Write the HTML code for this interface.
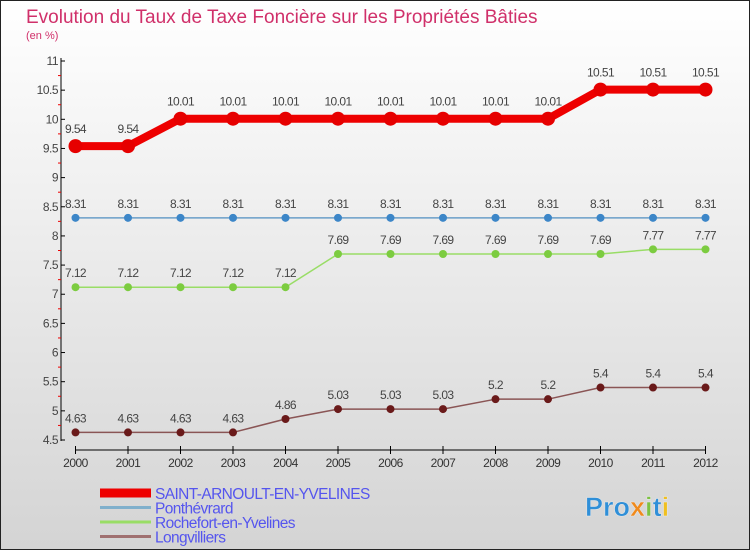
<!DOCTYPE html>
<html><head><meta charset="utf-8"><style>
body{margin:0;width:750px;height:550px;overflow:hidden}
svg{display:block;font-family:"Liberation Sans",sans-serif}
</style></head><body>
<svg width="750" height="550">
<defs><linearGradient id="bg" x1="0" y1="0" x2="0" y2="1"><stop offset="0" stop-color="#ffffff"/><stop offset="1" stop-color="#d4d4d4"/></linearGradient></defs>
<rect x="0.5" y="0.5" width="749" height="549" fill="url(#bg)" stroke="#222"/>
<text x="26" y="23" font-size="19" fill="#d0306a">Evolution du Taux de Taxe Foncière sur les Propriétés Bâties</text>
<text x="26" y="39" font-size="11" fill="#d0306a">(en %)</text>
<g id="axes"></g>
<g id="series"></g>
<g id="legend"></g>
<g font-size="27" font-weight="bold">
<text x="585" y="516" fill="#2f8fd8" stroke="#e8e8e8" stroke-width="0.5">Pro<tspan fill="#f08a1c">x</tspan><tspan fill="#7dc242">i</tspan><tspan fill="#2f8fd8">t</tspan><tspan fill="#f0c020">i</tspan></text>
</g>
</svg>
<script>
const years=["2000","2001","2002","2003","2004","2005","2006","2007","2008","2009","2010","2011","2012"];
const saint=[9.54,9.54,10.01,10.01,10.01,10.01,10.01,10.01,10.01,10.01,10.51,10.51,10.51];
const ponth=[8.31,8.31,8.31,8.31,8.31,8.31,8.31,8.31,8.31,8.31,8.31,8.31,8.31];
const roche=[7.12,7.12,7.12,7.12,7.12,7.69,7.69,7.69,7.69,7.69,7.69,7.77,7.77];
const longv=[4.63,4.63,4.63,4.63,4.86,5.03,5.03,5.03,5.2,5.2,5.4,5.4,5.4];
const yTicks=[4.5,5,5.5,6,6.5,7,7.5,8,8.5,9,9.5,10,10.5,11];
const names=["SAINT-ARNOULT-EN-YVELINES","Ponthévrard","Rochefort-en-Yvelines","Longvilliers"];
const NS="http://www.w3.org/2000/svg";
const X=i=>75.5+i*52.5;
const Y=v=>440-(v-4.5)*(379/6.5);
function mk(tag,at,parent){const e=document.createElementNS(NS,tag);for(const k in at)e.setAttribute(k,at[k]);parent.appendChild(e);return e;}
const ax=document.getElementById('axes');
let l=mk('line',{x1:61,y1:58,x2:61,y2:441,stroke:'#000'},ax);


l=mk('line',{x1:75.5,y1:450,x2:705.5,y2:450,stroke:'#000'},ax);


yTicks.forEach((v,i)=>{
  mk('line',{x1:61,y1:Y(v),x2:65,y2:Y(v),stroke:'#000'},ax);
  if(i<yTicks.length-1) mk('line',{x1:58,y1:Y(v+0.25),x2:61,y2:Y(v+0.25),stroke:'#e00'},ax);
  const t=mk('text',{x:58,y:Y(v)+4,'font-size':12,'text-anchor':'end',fill:'#444','letter-spacing':'-0.5'},ax);
  t.textContent=String(v);
  
  
});
years.forEach((y,i)=>{
  mk('line',{x1:X(i),y1:446,x2:X(i),y2:454,stroke:'#000'},ax);
  const t=mk('text',{x:X(i),y:467,'font-size':12,'text-anchor':'middle',fill:'#333','letter-spacing':'-0.5'},ax);
  t.textContent=y;
  
  
});
const sg=document.getElementById('series');
function series(vals,color,w,r,dot,name){
  const g=mk('g',{},sg);
  
  
  mk('polyline',{points:vals.map((v,i)=>X(i)+','+Y(v)).join(' '),fill:'none',stroke:color,'stroke-width':w,'stroke-linejoin':'round'},g);
  vals.forEach((v,i)=>{
    const c=mk('circle',{cx:X(i),cy:Y(v),r:r,fill:dot},g);
    
    
    const t=mk('text',{x:X(i),y:Y(v)-(r+6),'font-size':12,'text-anchor':'middle',fill:'#444','letter-spacing':'-0.6'},g);
    t.textContent=String(v);
    
    
  });
}
series(longv,'#8a5555',1.5,4,'#6a1a1a','series-longvilliers');
series(roche,'#99dd66',1.5,4,'#7ccc40','series-rochefort');
series(ponth,'#6a9ec8',1.5,4,'#3c86c8','series-ponthevrard');
series(saint,'#ee0000',8,7,'#e60000','series-saint-arnoult');
const lg=document.getElementById('legend');
const lc=['#ee0000','#80b0cc','#99dd66','#a07070'];
const lw=[9,3,3,3];
names.forEach((n,i)=>{
  const y=493+i*14.5;
  const g=mk('g',{},lg);
  
  
  mk('line',{x1:100,y1:y,x2:151,y2:y,stroke:lc[i],'stroke-width':lw[i]},g);
  const t=mk('text',{x:155,y:y+6,'font-size':15.5,fill:'#5555ee','letter-spacing':'-0.6'},g);
  t.textContent=n;
});
</script>
</body></html>
